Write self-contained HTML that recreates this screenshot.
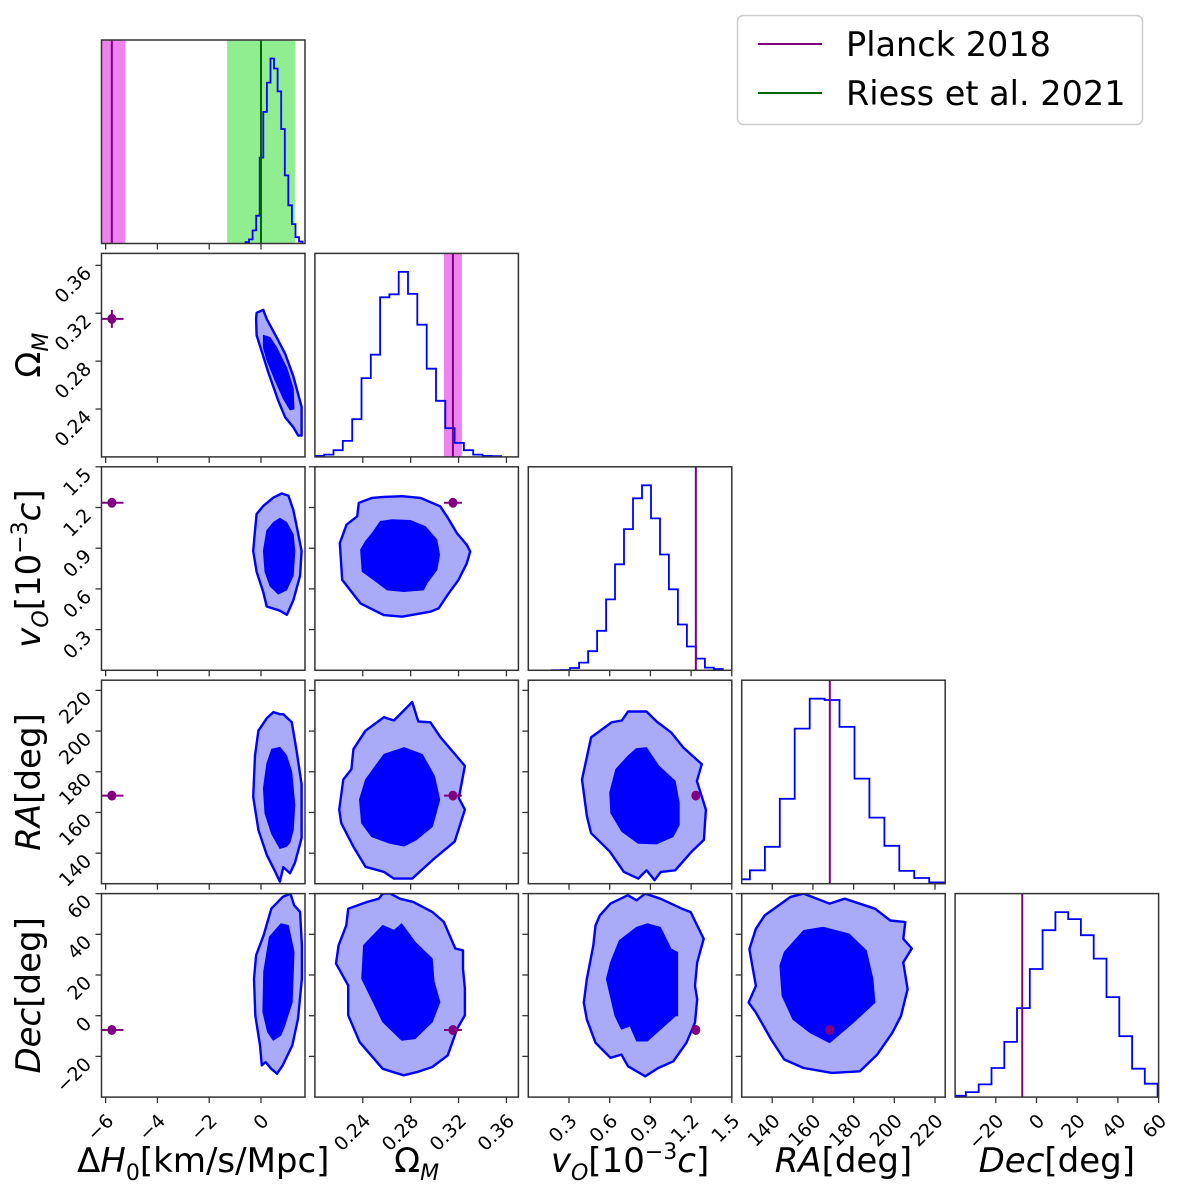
<!DOCTYPE html>
<html><head><meta charset="utf-8"><style>
html,body{margin:0;padding:0;background:#fff;}
svg{display:block;font-family:"DejaVu Sans","Liberation Sans",sans-serif;}
</style></head><body>
<svg id="chart" width="1200" height="1200" viewBox="0 0 1200 1200" xmlns="http://www.w3.org/2000/svg">
<g id="legend">
<rect x="737.5" y="15.5" width="405" height="109" rx="6" fill="#fff" stroke="#ccc" stroke-width="1.5"/>
<line x1="758" y1="44" x2="822" y2="44" stroke="#800080" stroke-width="2"/>
<text x="846" y="56" font-size="33.5" fill="#000">Planck 2018</text>
<line x1="758" y1="93" x2="822" y2="93" stroke="#006400" stroke-width="2"/>
<text x="846" y="105" font-size="33.5" fill="#000">Riess et al. 2021</text>
</g>
</svg>
<script>
const NS="http://www.w3.org/2000/svg";
const ranges=[[-6.16,1.70],[0.2,0.37],[0,1.5],[125,225],[-40,60]];
const ticksH0=[-6,-4,-2,0];
const ticksOm=[0.24,0.28,0.32,0.36];
const ticksVo=[0.3,0.6,0.9,1.2,1.5];
const ticksRA=[140,160,180,200,220];
const ticksDec=[-20,0,20,40,60];
const tickLabelsH0=["−6","−4","−2","0"];
const tickLabelsOm=["0.24","0.28","0.32","0.36"];
const tickLabelsVo=["0.3","0.6","0.9","1.2","1.5"];
const tickLabelsRA=["140","160","180","200","220"];
const tickLabelsDec=["−20","0","20","40","60"];
const paramNames=["h0","omega-m","v-o","ra","dec"];
const histStart=[-0.6,0.2,0.176,121.7,-40.96];
const histWidth=[0.138,0.00778,0.0662,7.34,6.28];
const histH0=[0.7,2,6.4,13.6,42,64.4,78.7,90.5,85.6,74.4,56,33.3,18.7,9.5,3.1,1];
const histOm=[3,7,20,48,113,236,306,478,487,554,488,396,264,168,86,42,20,7,3,2];
const histVo=[0.5,1,7,23,57,118,212,317,422,514,553,454,346,242,137,71,35,8,4];
const histRA=[13,40,110,253,462,551,547,467,313,197,113,38,17,4];
const histDec=[4,15,38,87,165,266,383,499,553,532,484,414,299,182,85,40];
const planckVals=[-5.76,0.3153,1.235,168.3,-7.0];
const planckErr=[0.45,0.0075,0,0,0];
const planckBandH0=[-6.2,-5.24];
const planckBandOm=[0.3078,0.3228];
const riessVal=0.0;
const riessBand=[-1.31,1.31];
const cH0Om_o=[[-0.17,0.3204],[0.09,0.3228],[0.22,0.3153],[0.605,0.2999],[0.93,0.2862],[1.25,0.2674],[1.57,0.2418],[1.57,0.2178],[1.44,0.2178],[1.25,0.2247],[0.93,0.2332],[0.67,0.2469],[0.28,0.2708],[0.03,0.2879],[-0.17,0.3016],[-0.19,0.3153]];
const cH0Om_i=[[0.09,0.3016],[0.35,0.2999],[0.61,0.2913],[1.0,0.2742],[1.25,0.2571],[1.28,0.24],[1.12,0.2393],[0.86,0.2486],[0.54,0.264],[0.22,0.2811],[0.09,0.2913]];
const cH0Vo_o=[[-0.17,1.152],[0.09,1.212],[0.48,1.273],[0.80,1.303],[1.06,1.288],[1.25,1.182],[1.38,1.061],[1.57,0.879],[1.51,0.697],[1.25,0.515],[1.0,0.409],[0.73,0.439],[0.22,0.47],[0.09,0.576],[-0.17,0.727],[-0.30,0.879],[-0.23,1.03]];
const cH0Vo_i=[[0.22,1.03],[0.48,1.091],[0.73,1.121],[0.99,1.091],[1.25,1.0],[1.31,0.879],[1.25,0.697],[0.99,0.591],[0.67,0.561],[0.35,0.621],[0.15,0.727],[0.09,0.879]];
const cH0RA_o=[[-0.10,200.2],[0.22,206.3],[0.48,209.3],[0.73,208.3],[0.86,208.3],[1.19,204.3],[1.38,190.0],[1.57,173.8],[1.57,147.4],[1.31,135.2],[1.12,130.1],[0.86,133.1],[0.73,126.0],[0.54,131.1],[0.22,139.2],[-0.10,151.4],[-0.30,167.7],[-0.23,188.0]];
const cH0RA_i=[[0.22,183.9],[0.41,191.1],[0.73,192.1],[0.99,188.0],[1.19,179.9],[1.31,163.6],[1.25,151.4],[1.12,145.3],[0.99,143.3],[0.73,142.3],[0.41,149.4],[0.15,159.6],[0.09,171.7]];
const cH0Dec_o=[[-0.12,32.1],[0.10,39.5],[0.40,52.6],[0.84,58.4],[1.14,60],[1.28,54.3],[1.51,51],[1.58,34.6],[1.58,18.2],[1.43,-1.5],[1.21,-14.6],[0.84,-24.4],[0.62,-28.5],[0.40,-26.1],[0.18,-22.8],[0.03,-24.4],[-0.04,-14.6],[-0.22,0.2],[-0.27,18.2],[-0.19,29.7]];
const cH0Dec_i=[[0.32,38.7],[0.77,45.2],[1.06,44.4],[1.28,31.3],[1.21,6.7],[0.92,-4.8],[0.77,-9.7],[0.47,-12.1],[0.25,-8.0],[0.07,1.8],[0.10,21.5]];
const cOmVo_o=[[0.2367,1.234],[0.2478,1.271],[0.2575,1.278],[0.2728,1.283],[0.2881,1.271],[0.3047,1.209],[0.3103,1.135],[0.3186,1.011],[0.3269,0.925],[0.3297,0.876],[0.3269,0.789],[0.32,0.666],[0.3117,0.567],[0.3033,0.456],[0.2964,0.432],[0.2728,0.395],[0.2575,0.407],[0.2381,0.493],[0.2228,0.666],[0.2208,0.937],[0.2264,1.073],[0.2353,1.135]];
const cOmVo_i=[[0.2547,1.098],[0.2644,1.110],[0.2797,1.105],[0.2922,1.061],[0.3019,0.962],[0.3042,0.851],[0.3019,0.740],[0.2936,0.641],[0.2908,0.592],[0.2742,0.580],[0.2603,0.592],[0.2492,0.666],[0.2394,0.728],[0.2381,0.888],[0.2422,0.950],[0.2478,1.011]];
const cOmRA_o=[[0.2322,191.1],[0.2423,200.2],[0.2576,206.8],[0.2660,205.2],[0.2813,214.3],[0.2864,204.7],[0.2965,204.3],[0.3050,196.9],[0.3253,182.9],[0.3202,167.1],[0.3253,161.4],[0.3168,145.7],[0.2982,136.6],[0.2813,127.5],[0.2660,127.5],[0.2576,130.8],[0.2423,133.3],[0.2322,143.2],[0.2220,154.8],[0.2203,161.4],[0.2237,176.2],[0.2305,181.2]];
const cOmRA_i=[[0.2576,188.6],[0.2745,191.9],[0.2897,188.6],[0.2999,177.9],[0.3043,166.3],[0.2982,153.1],[0.2847,146.5],[0.2745,143.5],[0.2626,144.8],[0.2474,148.1],[0.2389,154.8],[0.2372,166.3],[0.2423,176.2]];
const cVoRA_o=[[0.463,196.9],[0.614,204.3],[0.689,205.2],[0.735,209.6],[0.871,209.6],[0.946,204.7],[1.052,199.4],[1.143,191.9],[1.279,183.7],[1.243,175.4],[1.309,161.4],[1.294,146.5],[1.203,140.7],[1.083,131.6],[0.977,130.8],[0.931,126.7],[0.871,131.6],[0.810,127.5],[0.705,130.8],[0.599,140.9],[0.463,149.8],[0.432,158.1],[0.396,176.2]];
const cVoRA_i=[[0.735,187.8],[0.795,191.4],[0.871,191.9],[0.962,182.9],[1.083,175.4],[1.113,164.7],[1.113,153.9],[1.067,148.1],[0.946,144.5],[0.810,144.8],[0.689,150.6],[0.608,159.7],[0.599,169.6],[0.644,181.2]];
const cOmDec_o=[[0.2278,52.6],[0.2438,55.9],[0.2534,57.5],[0.2566,60],[0.2630,60],[0.2709,57.5],[0.2821,55.9],[0.2981,51],[0.3077,46.1],[0.3173,33.0],[0.3237,32.1],[0.3237,23.1],[0.3253,13.3],[0.3253,0.2],[0.3189,-6.4],[0.3109,-19.5],[0.2981,-25.2],[0.2853,-27.7],[0.2741,-29.3],[0.2566,-26.1],[0.2374,-13],[0.2278,0.2],[0.2278,14.9],[0.2176,25.6],[0.2198,34.6],[0.2262,44.4]];
const cOmDec_i=[[0.2406,34.6],[0.2566,44.4],[0.2662,42.0],[0.2725,45.2],[0.2837,36.2],[0.2981,28.0],[0.2997,16.6],[0.3045,6.7],[0.2981,-3.1],[0.2837,-11.3],[0.2725,-12.1],[0.2566,-3.1],[0.2486,6.7],[0.2390,18.2]];
const cVoDec_o=[[0.527,49.3],[0.606,55.1],[0.734,59.2],[0.798,56.7],[0.862,60],[0.974,57.5],[1.133,52.6],[1.197,50.9],[1.245,44.3],[1.293,37.8],[1.245,26.2],[1.229,14.7],[1.245,8.1],[1.229,-3.4],[1.165,-13.3],[1.069,-22.4],[0.958,-25.7],[0.862,-29.8],[0.734,-24.8],[0.686,-19.1],[0.606,-20.7],[0.495,-13.3],[0.431,-1.8],[0.409,6.5],[0.431,18.0],[0.479,34.5],[0.495,44.3]];
const cVoDec_i=[[0.670,36.9],[0.798,43.5],[0.878,45.2],[0.974,43.5],[1.053,32.8],[1.101,31.2],[1.101,-0.1],[1.085,-0.1],[0.878,-12.5],[0.798,-12.5],[0.750,-5.1],[0.686,-6.7],[0.638,-0.1],[0.575,18.0],[0.606,26.2]];
const cRADec_o=[[136.3,49.3],[149.0,58.4],[155.4,60],[168.2,55.1],[175.6,57.5],[190.5,52.6],[198.0,46.8],[205.4,46.0],[204.4,37.8],[208.6,33.0],[204.4,26.2],[206.5,13.0],[203.3,-0.1],[199.0,-8.4],[191.6,-19.1],[183.1,-27.3],[169.3,-28.1],[155.4,-25.7],[145.9,-21.5],[139.5,-11.7],[132.0,1.5],[128.4,6.5],[132.0,14.7],[129.9,26.2],[128.8,32.8],[132.0,42.7]];
const cRADec_i=[[145.9,31.2],[155.4,41.9],[165.0,43.5],[177.8,40.2],[186.3,32.0],[189.5,18.0],[190.5,6.5],[179.9,-3.4],[168.2,-13.3],[158.6,-8.4],[150.1,-1.8],[144.8,9.8],[143.7,24.6]];

const svg=document.getElementById('chart');
const L0=101.5,T0=40,STEP=213.4,W=203.5,H=203.5;
function px(i,v){const r=ranges[i];return L0+i*STEP+(v-r[0])/(r[1]-r[0])*W;}
function py(j,v){const r=ranges[j];return T0+j*STEP+H-(v-r[0])/(r[1]-r[0])*H;}
function mk(tag,attrs,parent){const e=document.createElementNS(NS,tag);for(const k in attrs)e.setAttribute(k,attrs[k]);(parent||svg).appendChild(e);return e;}
const defs=mk('defs',{});
const allTicks=[ticksH0,ticksOm,ticksVo,ticksRA,ticksDec];
const allLabels=[tickLabelsH0,tickLabelsOm,tickLabelsVo,tickLabelsRA,tickLabelsDec];
const hists=[histH0,histOm,histVo,histRA,histDec];

function panelGroup(i,j){
  const left=L0+i*STEP,top=T0+j*STEP;
  const cp=mk('clipPath',{id:'c'+i+'_'+j},defs);
  mk('rect',{x:left,y:top,width:W,height:H},cp);
  const g=mk('g',{});
  
  
  const inner=mk('g',{'clip-path':'url(#c'+i+'_'+j+')'},g);
  return {g,inner,left,top};
}
function poly(i,j,pts,attrs,parent,name){
  const d=pts.map((p,k)=>(k?'L':'M')+px(i,p[0]).toFixed(1)+' '+py(j,p[1]).toFixed(1)).join(' ')+' Z';
  const e=mk('path',Object.assign({d},attrs),parent);
  
  
  return e;
}
function frame(P){
  const r=mk('rect',{x:P.left,y:P.top,width:W,height:H,fill:'none',stroke:'#333','stroke-width':1.5},P.g);
  
  
}
function xTicks(i,P,labels){
  allTicks[i].forEach((t,k)=>{
    const x=px(i,t);
    mk('line',{x1:x,x2:x,y1:P.top+H,y2:P.top+H+6,stroke:'#333','stroke-width':1.3},P.g);
    if(labels){
      const ax=x+9,ay=P.top+H+25;
      const tx=mk('text',{x:ax,y:ay,'font-size':19,'text-anchor':'end',transform:'rotate(-45 '+ax+' '+ay+')'},P.g);
      tx.textContent=allLabels[i][k];
      
      
    }
  });
}
function yTicks(j,P,labels){
  allTicks[j].forEach((t,k)=>{
    const y=py(j,t);
    if(y<P.top-0.5||y>P.top+H+0.5)return;
    mk('line',{x1:P.left-6,x2:P.left,y1:y,y2:y,stroke:'#333','stroke-width':1.3},P.g);
    if(labels){
      const ax=P.left-9,ay=y+9;
      const tx=mk('text',{x:ax,y:ay,'font-size':19,'text-anchor':'end',transform:'rotate(-45 '+ax+' '+ay+')'},P.g);
      tx.textContent=allLabels[j][k];
      
      
    }
  });
}
for(let i=0;i<5;i++){
  const P=panelGroup(i,i);
  const counts=hists[i];
  const ymax=Math.max(...counts)*1.1;
  const hy=c=>P.top+H-c/ymax*H;
  if(i===0){
    const b1=mk('rect',{x:px(0,riessBand[0]),y:P.top,width:px(0,riessBand[1])-px(0,riessBand[0]),height:H,fill:'#90ee90'},P.inner);
    
    
    const b2=mk('rect',{x:px(0,planckBandH0[0]),y:P.top,width:px(0,planckBandH0[1])-px(0,planckBandH0[0]),height:H,fill:'#ee82ee'},P.inner);
    
    
  }
  if(i===1){
    const b=mk('rect',{x:px(1,planckBandOm[0]),y:P.top,width:px(1,planckBandOm[1])-px(1,planckBandOm[0]),height:H,fill:'#ee82ee'},P.inner);
    
    
  }
  let d='M'+px(i,histStart[i]).toFixed(1)+' '+(P.top+H);
  counts.forEach((c,k)=>{
    const x0=px(i,histStart[i]+k*histWidth[i]),x1=px(i,histStart[i]+(k+1)*histWidth[i]);
    d+=' L'+x0.toFixed(1)+' '+hy(c).toFixed(1)+' L'+x1.toFixed(1)+' '+hy(c).toFixed(1);
  });
  d+=' L'+px(i,histStart[i]+counts.length*histWidth[i]).toFixed(1)+' '+(P.top+H);
  const hp=mk('path',{d,fill:'none',stroke:'#0000ff','stroke-width':1.8},P.inner);
  
  
  if(i===0){
    const rl=mk('line',{x1:px(0,riessVal),x2:px(0,riessVal),y1:P.top,y2:P.top+H,stroke:'#006400','stroke-width':2},P.inner);
    
    
  }
  const pl=mk('line',{x1:px(i,planckVals[i]),x2:px(i,planckVals[i]),y1:P.top,y2:P.top+H,stroke:'#800080','stroke-width':2},P.inner);
  
  
  frame(P);
  xTicks(i,P,i===4);
}
const pairs=[[0,1,cH0Om_o,cH0Om_i],[0,2,cH0Vo_o,cH0Vo_i],[1,2,cOmVo_o,cOmVo_i],[0,3,cH0RA_o,cH0RA_i],[1,3,cOmRA_o,cOmRA_i],[2,3,cVoRA_o,cVoRA_i],[0,4,cH0Dec_o,cH0Dec_i],[1,4,cOmDec_o,cOmDec_i],[2,4,cVoDec_o,cVoDec_i],[3,4,cRADec_o,cRADec_i]];
pairs.forEach(([i,j,outer,inner])=>{
  const P=panelGroup(i,j);
  poly(i,j,outer,{fill:'#a9abf9',stroke:'#0000ff','stroke-width':2.4,'stroke-linejoin':'round'},P.inner,'contour-95-'+paramNames[j]+'-'+paramNames[i]);
  poly(i,j,inner,{fill:'#0000ff',stroke:'#0000ff','stroke-width':0.8},P.inner,'contour-68-'+paramNames[j]+'-'+paramNames[i]);
  const cx=px(i,planckVals[i]),cy=py(j,planckVals[j]);
  if(planckErr[i]>0){
    const e1=mk('line',{x1:px(i,planckVals[i]-planckErr[i]),x2:px(i,planckVals[i]+planckErr[i]),y1:cy,y2:cy,stroke:'#800080','stroke-width':2},P.inner);
    
    
  }
  if(planckErr[j]>0){
    const e2=mk('line',{x1:cx,x2:cx,y1:py(j,planckVals[j]-planckErr[j]),y2:py(j,planckVals[j]+planckErr[j]),stroke:'#800080','stroke-width':2},P.inner);
    
    
  }
  const dot=mk('ellipse',{cx,cy,rx:4.5,ry:5,fill:'#800080'},P.inner);
  
  
  frame(P);
  xTicks(i,P,j===4);
  yTicks(j,P,i===0);
});
const xTitles=['<tspan>Δ</tspan><tspan font-style="italic">H</tspan><tspan font-size="22" dy="8">0</tspan><tspan dy="-8">[km/s/Mpc]</tspan>',
 '<tspan>Ω</tspan><tspan font-size="22" dy="8" font-style="italic">M</tspan>',
 '<tspan font-style="italic">v</tspan><tspan font-size="22" dy="8" font-style="italic">O</tspan><tspan dy="-8">[10</tspan><tspan font-size="22" dy="-13">−3</tspan><tspan dy="13" font-style="italic">c</tspan><tspan>]</tspan>',
 '<tspan font-style="italic">RA</tspan><tspan>[deg]</tspan>',
 '<tspan font-style="italic">Dec</tspan><tspan>[deg]</tspan>'];
const xTitleNames=['x-axis-title-h0','x-axis-title-omega-m','x-axis-title-v-o','x-axis-title-ra','x-axis-title-dec'];
xTitles.forEach((h,i)=>{
  const t=mk('text',{x:L0+i*STEP+W/2,y:1172,'font-size':34,'text-anchor':'middle'});
  t.innerHTML=h;
  
  
});
const yTitleNames=['','y-axis-title-omega-m','y-axis-title-v-o','y-axis-title-ra','y-axis-title-dec'];
for(let j=1;j<5;j++){
  const cy=T0+j*STEP+H/2,cx=40;
  const t=mk('text',{x:cx,y:cy,'font-size':34,'text-anchor':'middle',transform:'rotate(-90 '+cx+' '+cy+')'});
  t.innerHTML=xTitles[j];
  
  
}
svg.appendChild(document.getElementById('legend'));
</script>
</body></html>
